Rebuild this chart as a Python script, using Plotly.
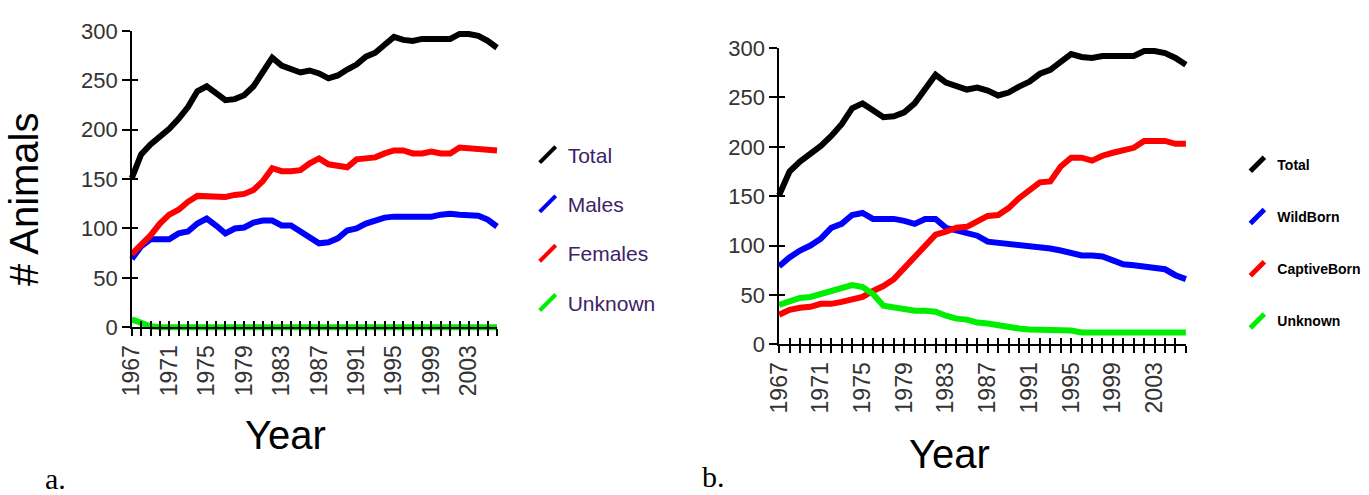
import plotly.graph_objects as go

# ---------------- data ----------------
years = [1967, 1968, 1969, 1970, 1971, 1972, 1973, 1974, 1975, 1976,
         1977, 1978, 1979, 1980, 1981, 1982, 1983, 1984, 1985, 1986,
         1987, 1988, 1989, 1990, 1991, 1992, 1993, 1994, 1995, 1996,
         1997, 1998, 1999, 2000, 2001, 2002, 2003, 2004, 2005, 2006]

total = [151, 175, 185, 193, 201, 211, 223, 239, 244, 237,
         230, 231, 235, 244, 258, 273, 265, 262, 258, 260,
         257, 252, 255, 261, 266, 274, 278, 286, 294, 291,
         290, 292, 292, 292, 292, 297, 297, 295, 290, 283]

males = [69, 82, 89, 89, 89, 95, 97, 105, 110, 103,
         95, 100, 101, 106, 108, 108, 103, 103, 97, 92,
         85, 86, 90, 98, 100, 105, 108, 111, 112, 112,
         112, 112, 112, 114, 115, 114, 114, 113, 109, 102]

females = [74, 83, 93, 105, 114, 119, 127, 133, 133, 132,
           132, 134, 135, 139, 148, 161, 158, 158, 159, 166,
           171, 165, 164, 162, 170, 171, 172, 176, 179, 179,
           176, 176, 178, 176, 176, 182, 181, 180, 180, 179]

unknown_sex = [8, 4, 1, 0, 0, 0, 0, 0, 0, 0,
               0, 0, 0, 0, 0, 0, 0, 0, 0, 0,
               0, 0, 0, 0, 0, 0, 0, 0, 0, 0,
               0, 0, 0, 0, 0, 0, 0, 0, 0, 0]

wild_born = [79, 88, 95, 100, 107, 118, 122, 131, 133, 127,
             127, 127, 125, 122, 127, 127, 118, 115, 113, 110,
             104, 103, 101, 100, 100, 99, 97, 95, 93, 90,
             90, 89, 85, 81, 80, 79, 77, 76, 70, 66]

captive_born = [30, 35, 37, 38, 41, 41, 43, 45, 48, 54,
                59, 66, 77, 90, 99, 111, 114, 118, 119, 124,
                130, 131, 138, 148, 156, 164, 165, 180, 189, 189,
                186, 191, 194, 196, 199, 206, 206, 206, 203, 203]

unknown_origin = [40, 44, 47, 48, 51, 54, 56, 60, 58, 51,
                  39, 37, 36, 34, 34, 33, 29, 26, 25, 22,
                  21, 19, 18, 16, 15, 15, 15, 15, 14, 12,
                  12, 12, 12, 12, 12, 12, 12, 12, 12, 12]

year_labels = ["1967", "1971", "1975", "1979", "1983", "1987", "1991", "1995", "1999", "2003"]
y_ticks = [0, 50, 100, 150, 200, 250, 300]

names_a = ["Total", "Males", "Females", "Unknown"]
names_b = ["Total", "WildBorn", "CaptiveBorn", "Unknown"]
colors = ["#000000", "#0000ff", "#ff0000", "#00ee00"]

# ---------------- geometry helpers ----------------
W, H = 1369, 495


def fx(px):
    return px / W


def fy(py):
    return 1 - py / H


X0, X1 = years[0], years[-1]
PAD_X, PAD_Y = 0.5, 6.0

# panel pixel boxes (axis line positions)
pa = dict(left=119, right=488, bottom=332, top=20)
pb = dict(left=773, right=1184, bottom=350, top=38)


def ext_domain(p):
    kx = (p["right"] - p["left"]) / (X1 - X0)
    ky = (p["bottom"] - p["top"]) / 300.0
    xd = [fx(p["left"] - PAD_X * kx), fx(p["right"] + PAD_X * kx)]
    yd = [fy(p["bottom"] + PAD_Y * ky), fy(p["top"] - PAD_Y * ky)]
    return xd, yd


fig = go.Figure()

series_a = [total, males, females, unknown_sex]
series_b = [total, wild_born, captive_born, unknown_origin]

for name, vals, c in zip(names_a, series_a, colors):
    fig.add_trace(go.Scatter(x=years, y=vals, mode="lines", name=name,
                             line=dict(color=c, width=6), showlegend=False,
                             xaxis="x", yaxis="y"))
for name, vals, c in zip(names_b, series_b, colors):
    fig.add_trace(go.Scatter(x=years, y=vals, mode="lines", name=name,
                             line=dict(color=c, width=6), showlegend=False,
                             xaxis="x2", yaxis="y2"))

# legend entries (diagonal strokes)
for i, (name, c) in enumerate(zip(names_a, colors)):
    fig.add_trace(go.Scatter(x=[None], y=[None], mode="markers", name=name,
                             marker=dict(symbol="line-ne", size=16, color=c,
                                         line=dict(color=c, width=4)),
                             legend="legend", legendgroup="a%d" % i,
                             xaxis="x", yaxis="y"))
for i, (name, c) in enumerate(zip(names_b, colors)):
    fig.add_trace(go.Scatter(x=[None], y=[None], mode="markers", name=name,
                             marker=dict(symbol="line-ne", size=14, color=c,
                                         line=dict(color=c, width=5)),
                             legend="legend2", legendgroup="b%d" % i,
                             xaxis="x2", yaxis="y2"))

# dummy traces so decoration axes exist
for xa, ya in [("x3", "y3"), ("x4", "y4"), ("x5", "y5"), ("x6", "y6")]:
    fig.add_trace(go.Scatter(x=[None], y=[None], showlegend=False,
                             hoverinfo="skip", xaxis=xa, yaxis=ya))

xd_a, yd_a = ext_domain(pa)
xd_b, yd_b = ext_domain(pb)

hidden = dict(visible=False, fixedrange=True)

tick_text = [str(y) if str(y) in year_labels else "" for y in years]
tickfont = dict(family="Liberation Sans, Arial", size=23, color="#333333")
ytickfont = dict(family="Liberation Sans, Arial", size=22, color="#333333")


def x_decor(p, anchor):
    return dict(domain=[fx(p["left"]), fx(p["right"])], range=[X0, X1],
                anchor=anchor, showline=True, linecolor="black", linewidth=1.5,
                ticks="outside", ticklen=7, tickwidth=1.5, tickcolor="black",
                tickvals=years, ticktext=tick_text, tickangle=-90,
                tickfont=tickfont, showgrid=False, zeroline=False, fixedrange=True)


def y_decor(p, anchor):
    return dict(domain=[fy(p["bottom"]), fy(p["top"])], range=[0, 300],
                anchor=anchor, showline=True, linecolor="black", linewidth=1.5,
                ticks="outside", ticklen=8, tickwidth=1.5, tickcolor="black",
                tickvals=y_ticks, tickfont=ytickfont, showgrid=False,
                zeroline=False, fixedrange=True)


def x_inner(over, anchor):
    return dict(overlaying=over, anchor=anchor, range=[X0, X1],
                showline=False, ticks="inside", ticklen=6, tickwidth=1.5,
                tickcolor="black", tickvals=years, showticklabels=False,
                showgrid=False, zeroline=False, fixedrange=True)


def y_inner(over, anchor):
    return dict(overlaying=over, anchor=anchor, range=[0, 300],
                showline=False, ticks="inside", ticklen=6, tickwidth=1.5,
                tickcolor="black", tickvals=y_ticks, showticklabels=False,
                showgrid=False, zeroline=False, fixedrange=True)


fig.update_layout(
    width=W, height=H,
    margin=dict(l=0, r=0, t=0, b=0),
    paper_bgcolor="white", plot_bgcolor="rgba(0,0,0,0)",
    showlegend=True,
    xaxis=dict(domain=xd_a, range=[X0 - PAD_X, X1 + PAD_X], anchor="y", **hidden),
    yaxis=dict(domain=yd_a, range=[-PAD_Y, 300 + PAD_Y], anchor="x", **hidden),
    xaxis2=dict(domain=xd_b, range=[X0 - PAD_X, X1 + PAD_X], anchor="y2", **hidden),
    yaxis2=dict(domain=yd_b, range=[-PAD_Y, 300 + PAD_Y], anchor="x2", **hidden),
    xaxis3=x_decor(pa, "y3"),
    yaxis3=y_decor(pa, "x3"),
    xaxis4=x_decor(pb, "y4"),
    yaxis4=y_decor(pb, "x4"),
    xaxis5=x_inner("x3", "y3"),
    yaxis5=y_inner("y3", "x3"),
    xaxis6=x_inner("x4", "y4"),
    yaxis6=y_inner("y4", "x4"),
    legend=dict(x=fx(519), y=fy(129), xanchor="left", yanchor="top",
                traceorder="grouped", tracegroupgap=19,
                font=dict(family="Liberation Sans, Arial", size=21, color="#3d2266"),
                bgcolor="rgba(0,0,0,0)", itemclick=False, itemdoubleclick=False),
    legend2=dict(x=fx(1236), y=fy(144), xanchor="left", yanchor="top",
                 traceorder="grouped", tracegroupgap=31,
                 font=dict(family="Liberation Sans, Arial", size=14, color="black",
                           weight="bold"),
                 bgcolor="rgba(0,0,0,0)", itemclick=False, itemdoubleclick=False),
    annotations=[
        dict(text="# Animals", x=fx(10), y=fy(197), xref="paper", yref="paper",
             textangle=-90, showarrow=False, xanchor="center", yanchor="middle",
             font=dict(family="Liberation Sans, Arial", size=40, color="black")),
        dict(text="Year", x=fx(274), y=fy(445), xref="paper", yref="paper",
             showarrow=False, xanchor="center", yanchor="middle",
             font=dict(family="Liberation Sans, Arial", size=40, color="black")),
        dict(text="Year", x=fx(945), y=fy(465), xref="paper", yref="paper",
             showarrow=False, xanchor="center", yanchor="middle",
             font=dict(family="Liberation Sans, Arial", size=40, color="black")),
        dict(text="a.", x=fx(42), y=fy(491), xref="paper", yref="paper",
             showarrow=False, xanchor="center", yanchor="middle",
             font=dict(family="Liberation Serif, Times New Roman", size=30, color="black")),
        dict(text="b.", x=fx(707), y=fy(489), xref="paper", yref="paper",
             showarrow=False, xanchor="center", yanchor="middle",
             font=dict(family="Liberation Serif, Times New Roman", size=30, color="black")),
    ],
)

fig.write_html("out.html", config={"displayModeBar": False},
               post_script="document.body.style.margin='0px';")
